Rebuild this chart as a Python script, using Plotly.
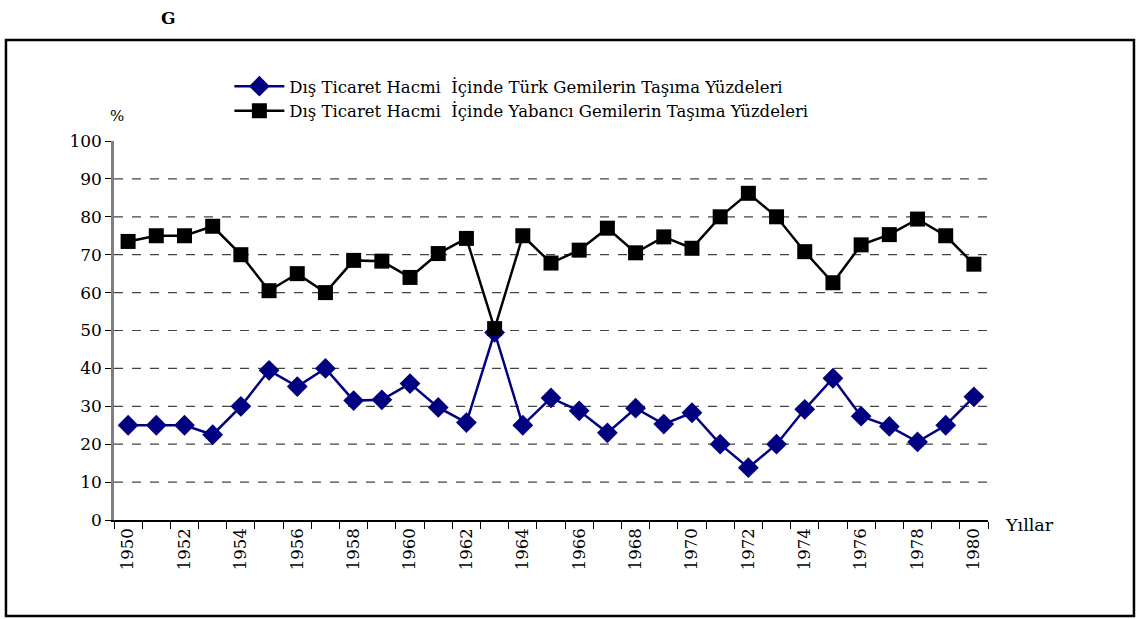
import plotly.graph_objects as go

years = [str(y) for y in range(1950, 1981)]
turk = [25, 25, 25, 22.5, 30, 39.5, 35.2, 40, 31.5, 31.7, 36, 29.7, 25.7, 49.5, 25,
        32.2, 28.8, 23, 29.5, 25.3, 28.3, 20, 13.8, 20, 29.2, 37.4, 27.4, 24.7, 20.6, 25, 32.5]
yabanci = [73.5, 75, 75, 77.5, 70, 60.5, 65, 60, 68.5, 68.3, 64, 70.3, 74.3, 50.5, 75,
           67.8, 71.2, 77, 70.5, 74.7, 71.7, 80, 86.2, 80, 70.8, 62.6, 72.6, 75.3, 79.4, 75, 67.5]
name_turk = "Dış Ticaret Hacmi  İçinde Türk Gemilerin Taşıma Yüzdeleri"
name_yab = "Dış Ticaret Hacmi  İçinde Yabancı Gemilerin Taşıma Yüzdeleri"
tick_text = [y if int(y) % 2 == 0 else "" for y in years]
grid_vals = [10, 20, 30, 40, 50, 60, 70, 80, 90]

FONT = "DejaVu Serif"

fig = go.Figure()
fig.add_trace(go.Scatter(x=years, y=turk, name=name_turk, mode="lines+markers",
                         line=dict(color="#000080", width=2.5),
                         marker=dict(symbol="diamond", size=16, color="#000080")))
fig.add_trace(go.Scatter(x=years, y=yabanci, name=name_yab, mode="lines+markers",
                         line=dict(color="black", width=2.5),
                         marker=dict(symbol="square", size=15, color="black")))

shapes = []
for v in grid_vals:
    shapes.append(dict(type="line", xref="paper", yref="y", x0=0, x1=1, y0=v, y1=v,
                       line=dict(color="#444444", width=1.2, dash="dash"), layer="below"))
# outer frame
shapes.append(dict(type="rect", xref="paper", yref="paper",
                   x0=-0.1236, x1=1.167, y0=-0.2533, y1=1.2665,
                   line=dict(color="black", width=2.5)))

fig.update_layout(
    width=1139, height=619,
    paper_bgcolor="white", plot_bgcolor="white",
    margin=dict(l=114, r=151, t=141, b=99),
    font=dict(family="serif", size=17, color="black"),
    showlegend=True,
    legend=dict(x=0.132, y=1.19, xanchor="left", yanchor="top",
                font=dict(family=FONT, size=16.5, color="black"), bgcolor="rgba(0,0,0,0)",
                itemwidth=50, tracegroupgap=0),
    shapes=shapes,
    annotations=[
        dict(text="<b>G</b>", xref="paper", yref="paper", x=(168 - 114) / 874, y=(520 - 18) / 379,
             showarrow=False, font=dict(family=FONT, size=17, color="black"),
             xanchor="center", yanchor="middle"),
        dict(text="%", xref="paper", yref="paper", x=(117 - 114) / 874, y=(520 - 116) / 379,
             showarrow=False, font=dict(family=FONT, size=15, color="black"),
             xanchor="center", yanchor="middle"),
        dict(text="Yıllar", xref="paper", yref="paper", x=(1003 - 114) / 874, y=(520 - 525) / 379,
             showarrow=False, font=dict(family=FONT, size=17.5, color="black"),
             xanchor="left", yanchor="middle"),
    ],
)
fig.update_xaxes(type="category", tickmode="array", tickvals=years, ticktext=tick_text,
                 tickson="boundaries", ticks="outside", ticklen=7, tickcolor="black",
                 tickangle=-90, showgrid=False, showline=True, linecolor="black", linewidth=1.5,
                 range=[-0.5, 30.5], tickfont=dict(family=FONT, size=16.5, color="black"))
fig.update_yaxes(range=[0, 100], tickvals=list(range(0, 101, 10)), showgrid=False,
                 ticks="outside", ticklen=6, tickcolor="black", showline=True,
                 linecolor="#808080", linewidth=2.5, zeroline=False,
                 tickfont=dict(family=FONT, size=17, color="black"))

fig.write_html("out.html", config={"displayModeBar": False},
               post_script="document.body.style.margin='0px';")
